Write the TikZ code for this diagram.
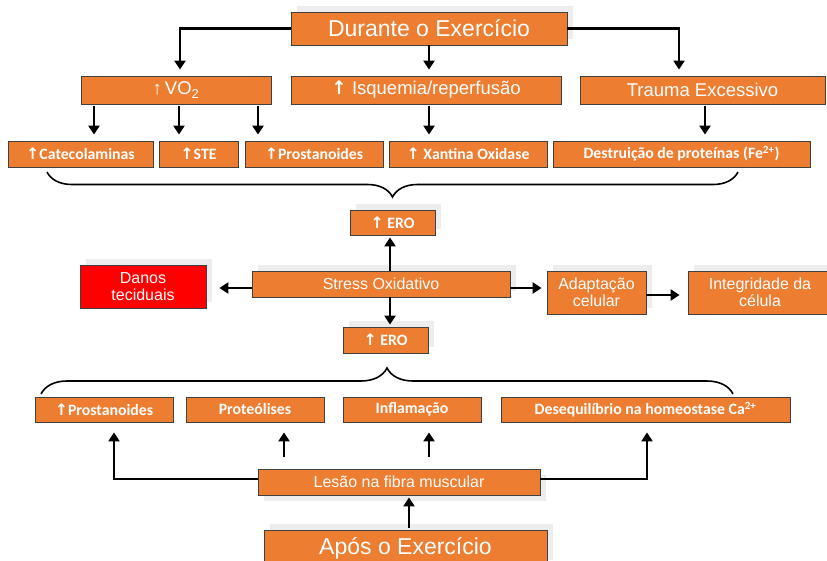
\documentclass[tikz,border=0pt]{standalone}
\usepackage{fontspec}
\setmainfont{Liberation Sans}
\newfontfamily\calibri{Carlito}
\newfontfamily\dejavu{DejaVu Sans}
\usetikzlibrary{arrows.meta, decorations.pathreplacing, shadows}

\definecolor{laranja}{HTML}{ED7D31}
\definecolor{vermelho}{HTML}{FF0000}
\definecolor{borda}{HTML}{404040}

\newcommand{\seta}{{\dejavu\bfseries ↑}}

\tikzstyle{caixa} = [rectangle, draw=borda, line width=0.8pt, fill=laranja, text=white, align=center, inner sep=0pt]
\tikzstyle{grande} = [caixa, font=\fontsize{23}{26}\selectfont]
\tikzstyle{media} = [caixa, font=\fontsize{18.5}{20}\selectfont]
\tikzstyle{texto} = [caixa, font=\fontsize{16}{17}\selectfont]
\tikzstyle{item} = [caixa, font=\calibri\bfseries\fontsize{15.8}{18}\selectfont]
\tikzstyle{sombra} = [drop shadow={shadow xshift=6pt, shadow yshift=6pt, fill=black!7, opacity=1}]
\tikzstyle{sombrab} = [drop shadow={shadow xshift=6pt, shadow yshift=-6pt, fill=black!7, opacity=1}]
\tikzstyle{arrow} = [line width=2.6pt, -{Triangle[length=9pt, width=11pt]}]
\tikzstyle{chave} = [decorate, line width=1.6pt]

\begin{document}
\begin{tikzpicture}[x=1pt, y=-1pt]
	\clip (0,0) rectangle (827,560);

	% Durante o exercicio
	\node[grande, sombra, minimum width=276pt, minimum height=33pt] (durante) at (429,28.5) {Durante o Exercício};
	\node[media, minimum width=190pt, minimum height=28pt] (vo2) at (176,90) {↑\,VO\textsubscript{2}};
	\node[media, minimum width=270pt, minimum height=28pt] (isquemia) at (426,90) {\seta\ Isquemia/reperfusão};
	\node[media, minimum width=245pt, minimum height=28pt] (trauma) at (702.5,90) {Trauma Excessivo};

	\node[item, minimum width=145pt, minimum height=26pt] (catecol) at (80.5,154) {\seta Catecolaminas};
	\node[item, minimum width=79pt, minimum height=26pt] (ste) at (198.5,154) {\seta STE};
	\node[item, minimum width=138pt, minimum height=26pt] (prosta) at (314,154) {\seta Prostanoides};
	\node[item, minimum width=158pt, minimum height=26pt] (xantina) at (468,154) {\seta\ Xantina Oxidase};
	\node[item, minimum width=257pt, minimum height=26pt] (destruicao) at (681.5,154) {Destruição de proteínas (Fe\textsuperscript{2+})};

	% Stress oxidativo
	\node[item, sombra, minimum width=85pt, minimum height=25pt] (eroA) at (392.5,222.5) {\seta\ ERO};
	\node[texto, sombra, minimum width=258pt, minimum height=26pt] (stress) at (381,284) {Stress Oxidativo};
	\node[texto, sombra, fill=vermelho, minimum width=126pt, minimum height=43pt] (danos) at (143,286.5) {Danos\\teciduais};
	\node[item, sombra, minimum width=85pt, minimum height=26pt] (eroB) at (385.5,340) {\seta\ ERO};
	\node[texto, sombra, minimum width=99pt, minimum height=43pt] (adaptacao) at (596.5,292.5) {Adaptação\\celular};
	\node[texto, sombra, minimum width=144pt, minimum height=43pt] (integridade) at (760,292.5) {Integridade da\\célula};

	% Apos o exercicio
	\node[item, minimum width=138pt, minimum height=25pt] (prosta2) at (104,409.5) {\seta Prostanoides};
	\node[item, minimum width=138pt, minimum height=25pt] (proteolise) at (255,409.5) {Proteólises};
	\node[item, minimum width=138pt, minimum height=25pt] (inflamacao) at (412,409.5) {Inflamação};
	\node[item, minimum width=289pt, minimum height=25pt] (desequilibrio) at (645.5,409.5) {Desequilíbrio na homeostase Ca\textsuperscript{2+}};
	\node[texto, sombrab, minimum width=282pt, minimum height=26pt] (lesao) at (399,482) {Lesão na fibra muscular};
	\node[grande, sombra, minimum width=283pt, minimum height=36pt] (apos) at (405.5,548) {Após o Exercício};

	\coordinate (chaveA1) at (738,172);
	\coordinate (chaveA2) at (47,172);
	\coordinate (chaveB1) at (41,394);
	\coordinate (chaveB2) at (733,394);

	% Setas
	\draw[arrow, shorten >=6pt] (durante.west) -| ([xshift=4pt]vo2.north);
	\draw[arrow, shorten >=6pt] (durante.south) -- (durante.south |- isquemia.north);
	\draw[arrow, shorten >=6pt] (durante.east) -| ([xshift=-23.5pt]trauma.north);
	\draw[arrow, shorten <=2pt, shorten >=6pt] ([xshift=-82pt]vo2.south) -- ([xshift=-82pt]vo2.south |- catecol.north);
	\draw[arrow, shorten <=2pt, shorten >=6pt] ([xshift=3pt]vo2.south) -- ([xshift=3pt]vo2.south |- ste.north);
	\draw[arrow, shorten <=2pt, shorten >=6pt] ([xshift=82pt]vo2.south) -- ([xshift=82pt]vo2.south |- prosta.north);
	\draw[arrow, shorten <=2pt, shorten >=6pt] (durante.south |- isquemia.south) -- (durante.south |- xantina.north);
	\draw[arrow, shorten <=2pt, shorten >=6pt] ([xshift=2.5pt]trauma.south) -- ([xshift=2.5pt]trauma.south |- destruicao.north);

	\draw[chave, decoration={brace, amplitude=25pt}] (chaveA1) -- (chaveA2);

	\draw[arrow, shorten >=2pt] ([xshift=-2.5pt]eroA.south |- stress.north) -- ([xshift=-2.5pt]eroA.south);
	\draw[arrow, shorten >=2pt] ([xshift=-2.5pt]eroA.south |- stress.south) -- ([xshift=-2.5pt]eroA.south |- eroB.north);
	\draw[arrow, shorten >=13pt] ([yshift=-4pt]stress.west) -- ([yshift=-4pt]stress.west -| danos.east);
	\draw[arrow, shorten >=5pt] ([yshift=-4pt]stress.east) -- ([yshift=-4pt]stress.east -| adaptacao.west);
	\draw[arrow, shorten >=8pt] ([yshift=-2.5pt]adaptacao.east) -- ([yshift=-2.5pt]adaptacao.east -| integridade.west);

	\draw[chave, decoration={brace, amplitude=26pt}] (chaveB1) -- (chaveB2);

	\draw[arrow, shorten >=10pt] ([yshift=3pt]lesao.west) -| ([xshift=10pt]prosta2.south);
	\draw[arrow, shorten <=12pt, shorten >=10pt] ([xshift=29pt]proteolise.south |- lesao.north) -- ([xshift=29pt]proteolise.south);
	\draw[arrow, shorten <=12pt, shorten >=10pt] ([xshift=17pt]inflamacao.south |- lesao.north) -- ([xshift=17pt]inflamacao.south);
	\draw[arrow, shorten >=10pt] ([yshift=3pt]lesao.east) -| ([xshift=1.5pt]desequilibrio.south);
	\draw[arrow, shorten <=2pt, shorten >=2pt] ([xshift=3.5pt]apos.north) -- ([xshift=3.5pt]apos.north |- lesao.south);
\end{tikzpicture}
\end{document}
